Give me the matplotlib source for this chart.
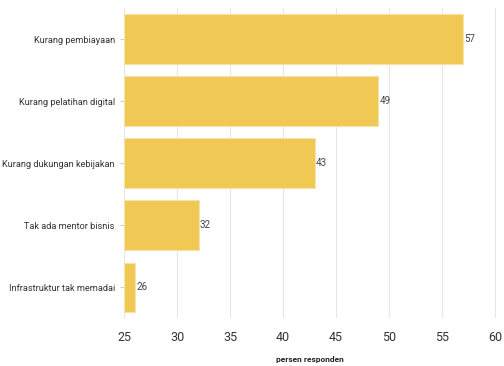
import matplotlib
matplotlib.use("Agg")
import matplotlib.pyplot as plt

categories = ["Kurang pembiayaan", "Kurang pelatihan digital", "Kurang dukungan kebijakan",
              "Tak ada mentor bisnis", "Infrastruktur tak memadai"]
values = [57, 49, 43, 32, 26]
xticks = [25, 30, 35, 40, 45, 50, 55, 60]

plt.rcParams['font.family'] = ['Roboto', 'DejaVu Sans']

fig = plt.figure(figsize=(5.04, 3.66), dpi=100)
ax = fig.add_axes([0.247, 0.130, 0.737, 0.848])

base = 25
ypos = list(range(len(categories)))
ax.barh(ypos, [v - base for v in values], left=base, height=0.8,
        color="#F0C854", edgecolor="#F7E3A6", linewidth=0.8, zorder=2)
for y, v in zip(ypos, values):
    ax.text(v + 0.1, y, str(v), va="center", ha="left", fontsize=7, color="#444444")

ax.set_xlim(25, 60.1)
ax.set_ylim(len(categories) - 0.5, -0.5)
ax.set_xticks(xticks)
ax.set_xticklabels([str(t) for t in xticks], fontsize=9, color="#333333")
ax.set_yticks(ypos)
ax.set_yticklabels(categories, fontsize=6.6, color="#333333")
ax.tick_params(axis="x", length=0, pad=9)
ax.tick_params(axis="y", length=3, color="#cccccc", pad=4)
ax.grid(axis="x", color="#e6e6e6", linewidth=0.8, zorder=0)
for s in ax.spines.values():
    s.set_visible(False)
ax.set_xlabel("persen responden", fontsize=6, fontweight="bold", color="#222222", labelpad=9)

fig.savefig("out.png", dpi=100)
